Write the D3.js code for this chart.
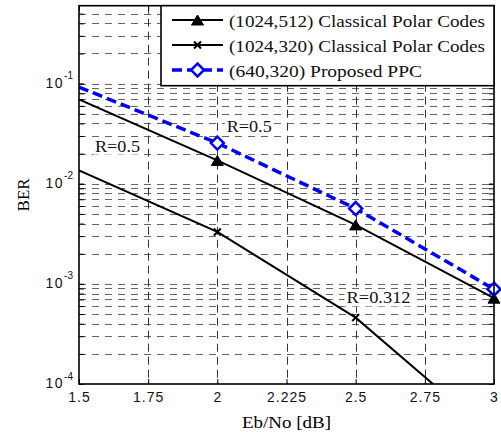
<!DOCTYPE html>
<html>
<head>
<meta charset="utf-8">
<script src="https://cdn.jsdelivr.net/npm/d3@7"></script>
<style>
  html, body { margin: 0; padding: 0; background: #fff; }
  svg { display: block; }
</style>
</head>
<body>
<svg id="chart" width="501" height="432"></svg>
<script>
// ---- data ----
const ebno = [1.5, 2, 2.5, 3];
const ber1024_512 = [0.0697, 0.0171, 0.00388, 0.00072];
const ber1024_320 = [0.0136, 0.0033, 0.00046, 0.00003];
const ber640_320 = [0.0925, 0.0255, 0.00565, 0.000885];
const seriesNames = [
  "(1024,512) Classical Polar Codes",
  "(1024,320) Classical Polar Codes",
  "(640,320) Proposed PPC"
];
const xTickValues = [1.5, 1.75, 2, 2.25, 2.5, 2.75, 3];
const xTickLabels = ["1.5", "1.75", "2", "2.225", "2.5", "2.75", "3"];
const yDecades = [1e-4, 1e-3, 1e-2, 1e-1];
const yExponents = ["-4", "-3", "-2", "-1"];
const rateLabels = ["R=0.5", "R=0.5", "R=0.312"];
const xTitle = "Eb/No [dB]";
const yTitle = "BER";

// ---- layout ----
const m = { left: 79, right: 494, top: 5.7, bottom: 384 };
const serif = "'Liberation Serif', 'Times New Roman', serif";
const sans = "'Liberation Sans', Arial, sans-serif";

const svg = d3.select("#chart");
const x = d3.scaleLinear().domain([1.5, 3]).range([m.left, m.right]);
const y = d3.scaleLog().domain([1e-4, 0.6]).range([m.bottom, m.top]);

svg.append("defs").append("clipPath").attr("id", "plotClip")
  .append("rect")
  .attr("x", m.left).attr("y", m.top)
  .attr("width", m.right - m.left).attr("height", m.bottom - m.top);

// ---- grid ----
const yGridVals = y.ticks().filter(v => v > y.domain()[0] * 1.0001 && v < y.domain()[1] * 0.9999);
const grid = svg.append("g");
grid.selectAll("line.h").data(yGridVals).join("line")
  .attr("class", "h")
  .attr("x1", m.left).attr("x2", m.right)
  .attr("y1", d => Math.round(y(d)) + 0.5).attr("y2", d => Math.round(y(d)) + 0.5)
  .attr("stroke", "#666").attr("stroke-width", 1)
  .attr("stroke-dasharray", "7,6");
grid.selectAll("line.v").data(xTickValues.slice(1, -1)).join("line")
  .attr("class", "v")
  .attr("x1", d => Math.round(x(d)) + 0.5).attr("x2", d => Math.round(x(d)) + 0.5)
  .attr("y1", m.top).attr("y2", m.bottom)
  .attr("stroke", "#333").attr("stroke-width", 1)
  .attr("stroke-dasharray", "8,5");

// ---- axes (ticks point inward) ----
const tick = 5;
const xAxisB = svg.append("g").attr("transform", `translate(0,${m.bottom})`)
  .call(d3.axisBottom(x).tickValues(xTickValues)
    .tickFormat((d, i) => xTickLabels[i])
    .tickSizeInner(-tick).tickSizeOuter(0).tickPadding(8.5));
xAxisB.selectAll("text")
  .attr("font-family", sans).attr("font-size", 14)
  .attr("letter-spacing", 1).attr("fill", "#111");
svg.append("g").attr("transform", `translate(0,${m.top})`)
  .call(d3.axisTop(x).tickValues(xTickValues).tickFormat("")
    .tickSizeInner(-tick).tickSizeOuter(0));
svg.append("g").attr("transform", `translate(${m.left},0)`)
  .call(d3.axisLeft(y).tickValues(yGridVals.concat(yDecades)).tickFormat("")
    .tickSizeInner(-tick).tickSizeOuter(0));
svg.append("g").attr("transform", `translate(${m.right},0)`)
  .call(d3.axisRight(y).tickValues(yGridVals.concat(yDecades)).tickFormat("")
    .tickSizeInner(-tick).tickSizeOuter(0));
svg.selectAll(".domain").remove();
svg.selectAll(".tick line").attr("stroke", "#000").attr("stroke-width", 1);

// y-axis decade labels 10^k
const yLab = svg.append("g");
yDecades.forEach((v, i) => {
  const t = yLab.append("text")
    .attr("x", m.left - 6).attr("y", y(v) + 4)
    .attr("text-anchor", "end")
    .attr("font-family", sans).attr("font-size", 14)
    .attr("fill", "#111");
  t.append("tspan").attr("letter-spacing", 1.5).text("10");
  t.append("tspan").attr("font-size", 10).attr("dy", -8.5).text(yExponents[i]);
});

// axis titles
svg.append("text")
  .attr("x", (m.left + m.right) / 2).attr("y", 428)
  .attr("text-anchor", "middle")
  .attr("font-family", serif).attr("font-size", 17)
  .attr("textLength", 89).attr("lengthAdjust", "spacingAndGlyphs")
  .text(xTitle);
svg.append("text")
  .attr("transform", `translate(29,${(m.top + m.bottom) / 2}) rotate(-90)`)
  .attr("text-anchor", "middle")
  .attr("font-family", serif).attr("font-size", 17)
  .text(yTitle);

// ---- rate annotations (white box behind text) ----
const notes = [
  { x: 1.558, y: 0.0209 },
  { x: 2.034, y: 0.0331 },
  { x: 2.467, y: 0.000638 }
];
const noteWidths = [45, 45, 64];
const noteG = svg.append("g");
notes.forEach((n, i) => {
  const px = x(n.x), py = y(n.y);
  noteG.append("rect")
    .attr("x", px - 2).attr("y", py - 13)
    .attr("width", noteWidths[i] + 4).attr("height", 16)
    .attr("fill", "#fff");
  noteG.append("text")
    .attr("x", px).attr("y", py)
    .attr("font-family", serif).attr("font-size", 16)
    .attr("textLength", noteWidths[i]).attr("lengthAdjust", "spacingAndGlyphs")
    .attr("fill", "#111")
    .text(rateLabels[i]);
});

// ---- series ----
const markerPaths = {
  triangle: "M0,-5L6,5L-6,5Z",
  cross: "M-3.5,-3.5L3.5,3.5M-3.5,3.5L3.5,-3.5",
  diamond: "M0,-6.5L6.5,0L0,6.5L-6.5,0Z"
};
const series = [
  { name: seriesNames[0], values: ber1024_512, color: "#000", width: 2, dash: null,
    marker: "triangle", mFill: "#000", mStroke: "#000", mWidth: 1 },
  { name: seriesNames[1], values: ber1024_320, color: "#000", width: 2, dash: null,
    marker: "cross", mFill: "none", mStroke: "#000", mWidth: 2 },
  { name: seriesNames[2], values: ber640_320, color: "#0000ff", width: 3.5, dash: "10,5",
    marker: "diamond", mFill: "#fff", mStroke: "#0000ff", mWidth: 2.5 }
];

const line = d3.line().x(d => x(d.x)).y(d => y(d.y));
const dataG = svg.append("g");
series.forEach(s => {
  const pts = ebno.map((e, i) => ({ x: e, y: s.values[i] }));
  dataG.append("path")
    .datum(pts)
    .attr("clip-path", "url(#plotClip)")
    .attr("d", line)
    .attr("fill", "none")
    .attr("stroke", s.color)
    .attr("stroke-width", s.width)
    .attr("stroke-dasharray", s.dash);
  const shown = pts.filter(p => p.x > x.domain()[0] && p.y >= y.domain()[0]);
  dataG.selectAll(null).data(shown).join("path")
    .attr("transform", p => `translate(${x(p.x)},${y(p.y)})`)
    .attr("d", markerPaths[s.marker])
    .attr("fill", s.mFill)
    .attr("stroke", s.mStroke)
    .attr("stroke-width", s.mWidth)
    .attr("stroke-linejoin", "miter");
});

// ---- frame ----
svg.append("rect")
  .attr("x", m.left).attr("y", m.top)
  .attr("width", m.right - m.left).attr("height", m.bottom - m.top)
  .attr("fill", "none").attr("stroke", "#000").attr("stroke-width", 1.6);

// ---- legend ----
const lg = { x: 161, y: m.top, w: m.right - 161, h: 80 };
const legendTextWidths = [256, 256, 193];
const legend = svg.append("g");
legend.append("rect")
  .attr("x", lg.x).attr("y", lg.y).attr("width", lg.w).attr("height", lg.h)
  .attr("fill", "#fff").attr("stroke", "#000").attr("stroke-width", 1.6);
series.forEach((s, i) => {
  const ry = 20 + i * 25;
  legend.append("line")
    .attr("x1", 172).attr("x2", 223).attr("y1", ry).attr("y2", ry)
    .attr("stroke", s.color).attr("stroke-width", s.width)
    .attr("stroke-dasharray", s.dash);
  legend.append("path")
    .attr("transform", `translate(197.5,${ry})`)
    .attr("d", markerPaths[s.marker])
    .attr("fill", s.mFill).attr("stroke", s.mStroke).attr("stroke-width", s.mWidth);
  legend.append("text")
    .attr("x", 229).attr("y", ry + 7)
    .attr("font-family", serif).attr("font-size", 17)
    .attr("textLength", legendTextWidths[i]).attr("lengthAdjust", "spacingAndGlyphs")
    .attr("fill", "#111")
    .text(s.name);
});
</script>
</body>
</html>
